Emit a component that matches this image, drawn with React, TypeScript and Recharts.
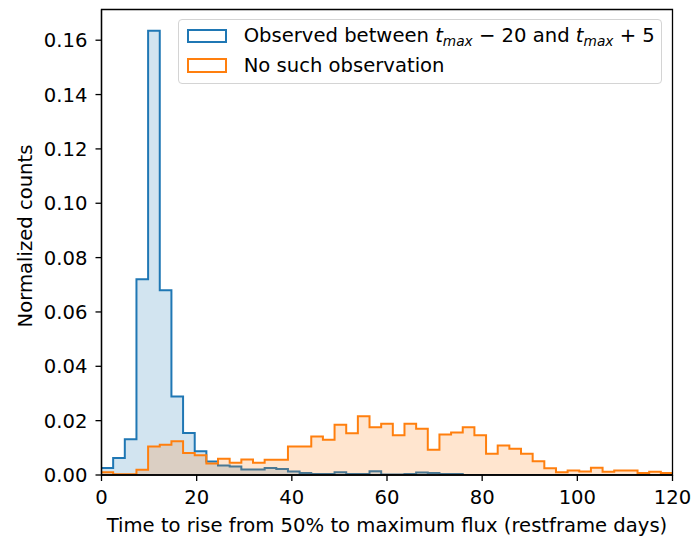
import React from 'react';
import { AreaChart, Area, XAxis, YAxis, Legend, ReferenceArea } from 'recharts';

// ---- data ----
const X_MIN = 0;
const X_MAX = 120;
const BIN_COUNT = 49;

const OBSERVED_VALUES = [
  0.0026, 0.0063, 0.0132, 0.072, 0.1635, 0.068, 0.0289, 0.0155, 0.0087, 0.005,
  0.0035, 0.0031, 0.002, 0.002, 0.0026, 0.0022, 0.0013, 0.0007, 0.0004, 0.0004,
  0.001, 0.0004, 0.0004, 0.0014, 0.0002, 0.0002, 0.0004, 0.0009, 0.0007, 0.0004,
  0.0004, 0, 0, 0, 0, 0, 0, 0, 0, 0,
  0, 0, 0, 0, 0, 0, 0, 0, 0,
];

const NO_OBS_VALUES = [
  0.001, 0.0003, 0.0003, 0.0019, 0.0105, 0.0111, 0.0124, 0.0081, 0.0073, 0.0042,
  0.006, 0.0045, 0.0057, 0.0045, 0.0056, 0.0056, 0.0105, 0.0105, 0.0142, 0.013,
  0.0185, 0.0154, 0.0216, 0.0176, 0.0189, 0.0146, 0.0189, 0.017, 0.0093, 0.0149,
  0.0156, 0.0176, 0.0146, 0.0078, 0.0109, 0.0097, 0.0078, 0.0051, 0.0025, 0.001,
  0.0017, 0.0013, 0.0027, 0.0012, 0.0017, 0.0017, 0.0007, 0.0012, 0.0007,
];

const X_TICKS = [0, 20, 40, 60, 80, 100, 120];
const Y_TICKS = [0, 0.02, 0.04, 0.06, 0.08, 0.1, 0.12, 0.14, 0.16];
const Y_MAX = 0.1713;

const SERIES_NAMES = ['Observed between t_max − 20 and t_max + 5', 'No such observation'];
const X_LABEL = 'Time to rise from 50% to maximum flux (restframe days)';
const Y_LABEL = 'Normalized counts';

// ---- styles ----
const BLUE = '#1f77b4';
const ORANGE = '#ff7f0e';
const FONT = "'DejaVu Sans', sans-serif";
const FS = 19.6;
const AXIS_COLOR = '#000';

const binWidth = (X_MAX - X_MIN) / BIN_COUNT;
const data = OBSERVED_VALUES.map((v, i) => ({
  x: X_MIN + i * binWidth,
  observed: v,
  none: NO_OBS_VALUES[i],
}));
data.push({
  x: X_MAX,
  observed: OBSERVED_VALUES[BIN_COUNT - 1],
  none: NO_OBS_VALUES[BIN_COUNT - 1],
});

const COLORS: Record<string, string> = { observed: BLUE, none: ORANGE };

function MathText({ text }: { text: string }) {
  const parts = text.split('t_max');
  return (
    <>
      {parts.map((p, i) => (
        <React.Fragment key={i}>
          {i > 0 && (
            <>
              <span style={{ fontStyle: 'italic' }}>t</span>
              <span style={{ fontStyle: 'italic', fontSize: '0.7em', position: 'relative', top: '0.28em' }}>max</span>
            </>
          )}
          <span>{p}</span>
        </React.Fragment>
      ))}
    </>
  );
}

function LegendBox(props: any) {
  const payload = [...(props.payload || [])].sort(
    (a: any, b: any) => SERIES_NAMES.indexOf(String(a.value)) - SERIES_NAMES.indexOf(String(b.value))
  );
  return (
    <div
      style={{
        position: 'relative',
        width: 484,
        height: 65,
        boxSizing: 'border-box',
        border: '1px solid #d4d4d4',
        borderRadius: 4,
        background: 'rgba(255,255,255,0.85)',
        fontFamily: FONT,
        fontSize: FS,
        color: '#000',
        whiteSpace: 'pre',
      }}
    >
      {payload.map((entry: any, i: number) => (
        <React.Fragment key={i}>
          <div
            style={{
              position: 'absolute',
              left: 7.5,
              top: 8.7 + i * 29.7,
              width: 40.5,
              height: 14.5,
              boxSizing: 'border-box',
              border: `2px solid ${COLORS[entry.dataKey] || entry.color}`,
              background: 'transparent',
            }}
          />
          <div
            style={{
              position: 'absolute',
              left: 64.7,
              top: 4.8 + i * 30,
              lineHeight: `${FS * 1.164}px`,
            }}
          >
            <MathText text={String(entry.value)} />
          </div>
        </React.Fragment>
      ))}
    </div>
  );
}

function XLabel(props: any) {
  const vb = props.viewBox || { x: 0, y: 0, width: 0, height: 0 };
  return (
    <text
      x={vb.x + vb.width / 2}
      y={531.7}
      textAnchor="middle"
      fontFamily={FONT}
      fontSize={FS}
      fill="#000"
    >
      {X_LABEL}
    </text>
  );
}

function YLabel() {
  const cx = 32;
  const cy = 236;
  return (
    <text
      x={cx}
      y={cy}
      transform={`rotate(-90 ${cx} ${cy})`}
      textAnchor="middle"
      fontFamily={FONT}
      fontSize={FS}
      fill="#000"
    >
      {Y_LABEL}
    </text>
  );
}

export default function App() {
  return (
    <div style={{ position: 'absolute', left: 0, top: 0, width: 694, height: 536, background: '#fff' }}>
      <AreaChart
        width={694}
        height={536}
        data={data}
        margin={{ top: 9.5, right: 21.5, bottom: 11, left: 0 }}
      >
        <XAxis
          type="number"
          dataKey="x"
          domain={[X_MIN, X_MAX]}
          ticks={X_TICKS}
          allowDataOverflow
          height={50}
          tickSize={6}
          tickMargin={9}
          axisLine={{ stroke: AXIS_COLOR, strokeWidth: 1.3 }}
          tickLine={{ stroke: AXIS_COLOR, strokeWidth: 1.3 }}
          tick={{ fill: '#000', fontSize: FS, fontFamily: FONT }}
          label={<XLabel />}
        />
        <YAxis
          type="number"
          domain={[0, Y_MAX]}
          ticks={Y_TICKS}
          allowDataOverflow
          width={101.5}
          tickSize={6}
          tickMargin={8}
          tickFormatter={(v: number) => v.toFixed(2)}
          axisLine={{ stroke: AXIS_COLOR, strokeWidth: 1.3 }}
          tickLine={{ stroke: AXIS_COLOR, strokeWidth: 1.3 }}
          tick={{ fill: '#000', fontSize: FS, fontFamily: FONT }}
          label={<YLabel />}
        />
        <Area
          type="stepAfter"
          dataKey="observed"
          name={SERIES_NAMES[0]}
          stroke={BLUE}
          strokeWidth={2}
          fill={BLUE}
          fillOpacity={0.2}
          baseValue={0}
          isAnimationActive={false}
          dot={false}
          activeDot={false}
        />
        <Area
          type="stepAfter"
          dataKey="none"
          name={SERIES_NAMES[1]}
          stroke={ORANGE}
          strokeWidth={2}
          fill={ORANGE}
          fillOpacity={0.2}
          baseValue={0}
          isAnimationActive={false}
          dot={false}
          activeDot={false}
        />
        <ReferenceArea
          x1={X_MIN}
          x2={X_MAX}
          y1={0}
          y2={Y_MAX}
          fill="none"
          stroke={AXIS_COLOR}
          strokeWidth={1.3}
          ifOverflow="visible"
        />
        <Legend
          layout="horizontal"
          verticalAlign="middle"
          align="center"
          content={<LegendBox />}
          wrapperStyle={{ left: 178, top: 19, width: 484, height: 65 }}
        />
      </AreaChart>
    </div>
  );
}
